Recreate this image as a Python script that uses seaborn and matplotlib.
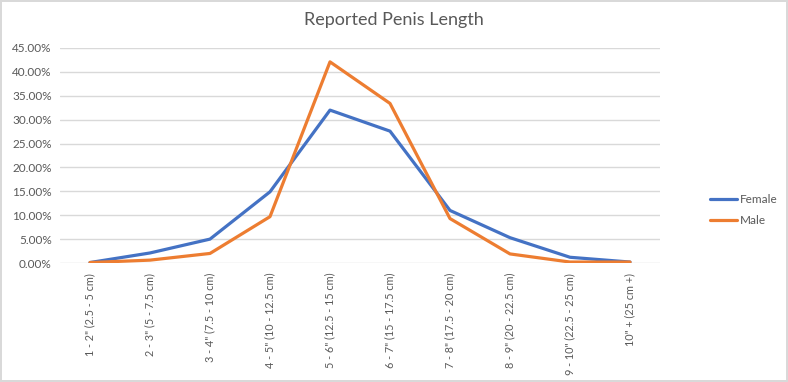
import pandas as pd
import seaborn as sns
import matplotlib.pyplot as plt
from matplotlib.ticker import PercentFormatter

# length buckets shown on the x axis
categories = ['1 - 2" (2.5 - 5 cm)', '2 - 3" (5 - 7.5 cm)', '3 - 4" (7.5 - 10 cm)',
              '4 - 5" (10 - 12.5 cm)', '5 - 6" (12.5 - 15 cm)', '6 - 7" (15 - 17.5 cm)',
              '7 - 8" (17.5 - 20 cm)', '8 - 9" (20 - 22.5 cm)', '9 - 10" (22.5 - 25 cm)',
              '10" + (25 cm +)']

# share of answers, in percent
female = [0.1, 2.1, 5.0, 14.9, 32.0, 27.6, 11.0, 5.3, 1.2, 0.2]
male = [0.1, 0.6, 2.0, 9.7, 42.1, 33.4, 9.3, 1.9, 0.2, 0.2]

df = pd.DataFrame({
    'pos': list(range(len(categories))) * 2,
    'share': female + male,
    'who': ['Female'] * len(female) + ['Male'] * len(male),
})

sns.set_style('white')
plt.rcParams['font.family'] = ['Lato', 'DejaVu Sans']

grey = '#595959'
fig = plt.figure(figsize=(7.88, 3.82), dpi=100)
fig.patch.set_edgecolor('#d9d9d9')
fig.patch.set_linewidth(1.5)
ax = fig.add_axes([60 / 788, 1 - 263 / 382, 600 / 788, 215 / 382])

sns.lineplot(data=df, x='pos', y='share', hue='who',
             palette={'Female': '#4472C4', 'Male': '#ED7D31'},
             linewidth=2.3, ax=ax)

ax.set_xlim(-0.5, len(categories) - 0.5)
ax.set_ylim(0, 45)
ax.set_yticks(range(0, 46, 5))
ax.yaxis.set_major_formatter(PercentFormatter(decimals=2))
ax.set_xticks(range(len(categories)))
ax.set_xticklabels(categories, rotation=90, fontsize=7.8, color=grey)
ax.tick_params(axis='y', labelsize=8.5, colors=grey, length=0, pad=6)
ax.tick_params(axis='x', length=0, pad=7)
ax.grid(axis='y', color='#d9d9d9', linewidth=1)
ax.set_axisbelow(True)
for s in ax.spines.values():
    s.set_visible(False)
ax.set_xlabel('')
ax.set_ylabel('')

leg = ax.legend(loc='center left', bbox_to_anchor=(710 / 788, 1 - 210 / 382),
                bbox_transform=fig.transFigure, frameon=False, fontsize=8.5,
                handlelength=2.3, handletextpad=0.2, labelspacing=0.8,
                borderaxespad=0, borderpad=0)
for t in leg.get_texts():
    t.set_color(grey)

fig.text(0.5, 1 - 20 / 382, 'Reported Penis Length', ha='center', va='center',
         fontsize=13, color=grey)

fig.savefig('out.png', dpi=100)
